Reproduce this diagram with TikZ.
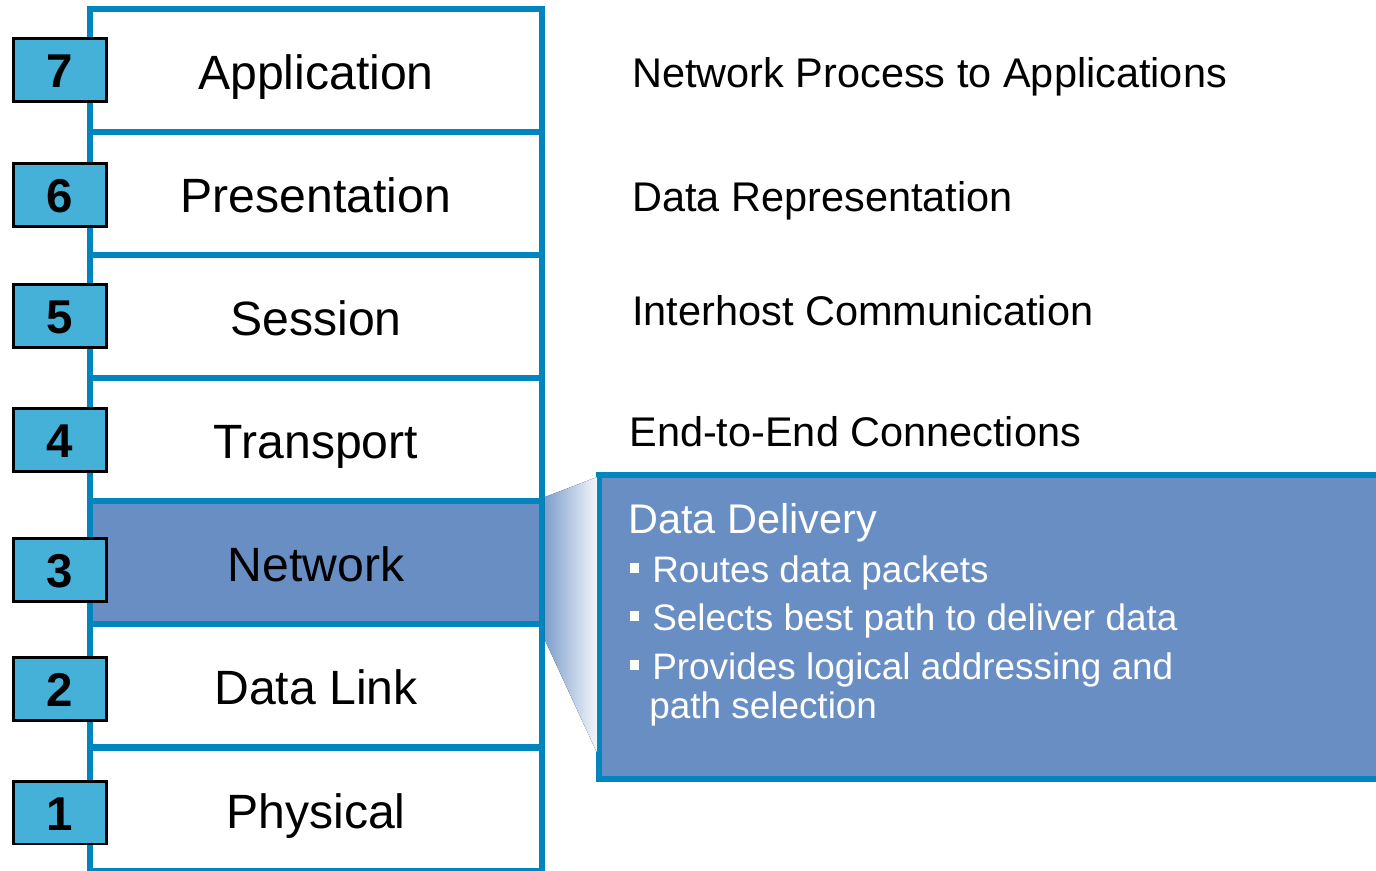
\documentclass[tikz,border=0pt]{standalone}
\usepackage{fontspec}
\setmainfont{Liberation Sans}
\usetikzlibrary{positioning}

\definecolor{stackblue}{RGB}{0,133,190}
\definecolor{numblue}{RGB}{69,176,216}
\definecolor{netblue}{RGB}{104,142,196}

\newcommand{\sqbullet}{\raisebox{5.4pt}{\rule{5pt}{5.6pt}}\hspace{7.5pt}}

\begin{document}
\begin{tikzpicture}[x=0.02cm, y=-0.02cm]

		\tikzstyle{layer} = [rectangle, draw=stackblue, line width=3.4pt, fill=white, minimum width=9.04cm, minimum height=2.46cm, inner sep=0pt, font=\fontsize{27.4}{30}\selectfont, text height=21.4pt, text depth=0pt]
		\tikzstyle{layer_net} = [layer, fill=netblue]
		\tikzstyle{number} = [rectangle, draw=black, line width=1.7pt, fill=numblue, minimum width=1.86cm, minimum height=1.26cm, inner sep=0pt, font=\fontsize{27}{30}\selectfont\bfseries, text height=20.4pt, text depth=0pt]
		\tikzstyle{desc} = [anchor=base west, inner sep=0pt, font=\fontsize{23.6}{26}\selectfont]
		\tikzstyle{callout} = [rectangle, draw=stackblue, line width=3.4pt, fill=netblue, minimum width=15.82cm, minimum height=6.08cm, inner sep=0pt]
		\tikzstyle{head} = [anchor=base west, inner sep=0pt, text=white, font=\fontsize{23.6}{26}\selectfont]
		\tikzstyle{item} = [anchor=base west, inner sep=0pt, text=white, font=\fontsize{21}{23}\selectfont]

		\useasboundingbox (0,0) rectangle (1376,871);

		% the seven layers
		\node[layer](app) at (316,70.5){Application};
		\node[layer](pres) at (316,193.5){Presentation};
		\node[layer](sess) at (316,316.5){Session};
		\node[layer](trans) at (316,439.5){Transport};
		\node[layer_net](net) at (316,562.5){Network};
		\node[layer](link) at (316,685.5){Data Link};
		\node[layer](phys) at (316,809.5){Physical};

		% zoom wedge and callout
		\node[callout](zoom) at (994.5,627){};
		\fill[left color=netblue!85, right color=white!92!netblue]
			([shift={(0,-1)}]net.north east) -- ([shift={(1,5)}]zoom.north west)
			-- ([shift={(1,-29)}]zoom.south west) -- ([shift={(0,13)}]net.south east) -- cycle;

		\node[number](n7) at (60,70){7};
		\node[number](n6) at (60,195){6};
		\node[number](n5) at (60,316){5};
		\node[number](n4) at (60,440){4};
		\node[number](n3) at (60,570){3};
		\node[number](n2) at (60,689){2};
		\node[number](n1) at (60,812.5){1};

		\node[desc](d7) at (632,88){Network Process to Applications};
		\node[desc](d6) at (632,212){Data Representation};
		\node[desc](d5) at (632,326){Interhost Communication};
		\node[desc](d4) at (629,446){End-to-End Connections};

		\node[head](zoom_head) at (628,533){Data Delivery};
		\node[item](zoom_a) at (630,582){\sqbullet Routes data packets};
		\node[item](zoom_b) at (630,630){\sqbullet Selects best path to deliver data};
		\node[item](zoom_c) at (630,679){\sqbullet Provides logical addressing and};
		\node[item](zoom_d) at (649,718){path selection};

\end{tikzpicture}
\end{document}
